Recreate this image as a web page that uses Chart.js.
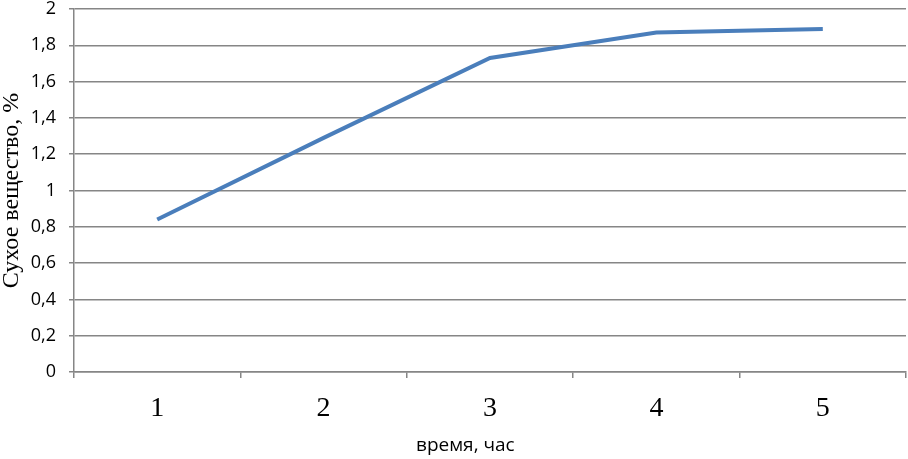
<!DOCTYPE html>
<html lang="ru">
<head>
    <meta charset="UTF-8">
    <title>Сухое вещество</title>
    <script src="https://cdn.jsdelivr.net/npm/chart.js@4.4.1/dist/chart.umd.min.js"></script>
    <style>
        html, body { margin: 0; padding: 0; background: #fff; }
        #wrap { width: 908px; height: 459px; }
    </style>
</head>
<body>
    <div id="wrap"><canvas id="dryChart" width="908" height="459"></canvas></div>

    <script>
        // time, hours
        const hours = ['1', '2', '3', '4', '5'];
        // dry matter, %
        const dryMatter = [0.84, 1.29, 1.73, 1.87, 1.89];
        const yTicks = [0, 0.2, 0.4, 0.6, 0.8, 1, 1.2, 1.4, 1.6, 1.8, 2];

        const gridGray = '#868686';

        new Chart(document.getElementById('dryChart'), {
            type: 'line',
            data: {
                labels: hours,
                datasets: [{
                    label: 'Сухое вещество, %',
                    data: dryMatter,
                    borderColor: '#4a7ebb',
                    borderWidth: 4,
                    pointRadius: 0,
                    tension: 0,
                    fill: false
                }]
            },
            options: {
                responsive: false,
                animation: false,
                layout: { padding: { top: 0, right: 2, bottom: 0, left: 0 } },
                plugins: {
                    legend: { display: false },
                    tooltip: { enabled: false }
                },
                scales: {
                    x: {
                        offset: true,
                        afterFit: (s) => { s.height = 87; },
                        grid: {
                            offset: true,
                            drawOnChartArea: false,
                            drawTicks: true,
                            tickLength: 6,
                            color: gridGray,
                            lineWidth: 1.5
                        },
                        border: { color: gridGray, width: 1.5 },
                        ticks: {
                            color: '#000',
                            padding: 14,
                            font: { family: '"Liberation Serif", "Times New Roman", serif', size: 28 }
                        },
                        title: {
                            display: true,
                            // trailing spaces nudge the title left of the plot centre, as in the original
                            text: 'время, час          ',
                            color: '#000',
                            padding: { top: 0, bottom: 2 },
                            font: { family: '"Open Sans", "Noto Sans", sans-serif', size: 19 }
                        }
                    },
                    y: {
                        min: 0,
                        max: 2,
                        afterFit: (s) => {
                            s.width = 74;
                            // top tick "2" sits almost at the edge of the picture
                            s.paddingTop = 9;
                            s.paddingBottom = 9;
                        },
                        afterBuildTicks: (axis) => {
                            axis.ticks = yTicks.map(v => ({ value: v }));
                        },
                        grid: {
                            color: gridGray,
                            lineWidth: 1.5,
                            drawTicks: true,
                            tickLength: 5
                        },
                        border: { color: gridGray, width: 1.5 },
                        ticks: {
                            color: '#000',
                            padding: 13,
                            font: { family: '"Open Sans", "Noto Sans", sans-serif', size: 18, lineHeight: 1 },
                            callback: (v) => String(Math.round(v * 10) / 10).replace('.', ',')
                        },
                        title: {
                            display: true,
                            text: 'Сухое вещество, %',
                            color: '#000',
                            padding: { top: 0, bottom: 0 },
                            font: { family: '"Liberation Serif", "Times New Roman", serif', size: 24, lineHeight: 1 }
                        }
                    }
                }
            }
        });
    </script>
</body>
</html>
